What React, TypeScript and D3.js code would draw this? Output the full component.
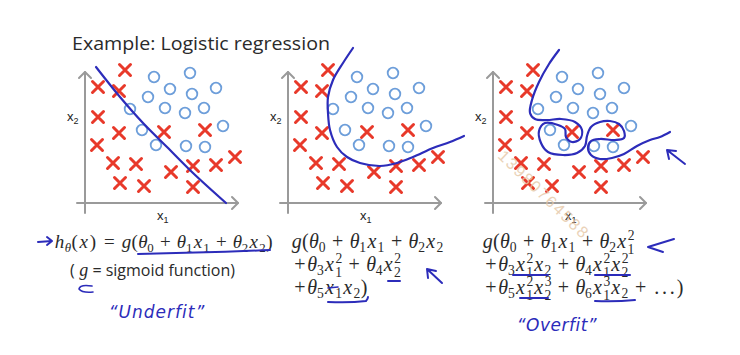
import React from 'react';
import * as d3 from 'd3';

// ---------- data (x1, x2 in plot units) ----------
const crosses: [number, number][] = [
  [4.0, 13.3], [1.3, 11.6], [3.4, 11.2], [1.3, 8.6], [3.4, 7.0], [7.9, 7.1],
  [12.0, 7.3], [1.2, 5.8], [2.8, 4.0], [5.1, 3.9], [8.6, 3.1], [10.8, 3.7],
  [13.1, 3.8], [15.0, 4.6], [3.5, 2.0], [5.9, 1.7], [10.8, 1.6],
];
const circles: [number, number][] = [
  [6.9, 12.6], [10.5, 13.0], [8.5, 11.4], [10.7, 10.9], [13.1, 11.5], [6.3, 10.6],
  [4.5, 9.4], [8.0, 9.5], [10.0, 9.0], [11.9, 9.5], [13.8, 7.7], [5.7, 7.3],
  [7.1, 5.8], [10.1, 5.7], [12.0, 5.6],
];
const boundaryLinear: [number, number][] = [
  [1.1, 13.6], [3.5, 10.6], [5.8, 8.0], [8.2, 5.6], [10.8, 3.0], [14.1, 0.0],
];
const boundaryQuadratic: [number, number][] = [
  [6.5, 15.5], [5.5, 14.0], [4.5, 12.3], [4.0, 10.6], [4.0, 9.0], [4.2, 7.3],
  [4.9, 5.6], [5.9, 4.6], [7.2, 4.0], [9.2, 3.7], [10.9, 4.0], [12.5, 4.6],
  [14.5, 5.5], [16.2, 6.1], [17.6, 6.7],
];
const boundaryOverfit: [number, number][] = [
  [6.6, 15.3], [5.6, 13.9], [4.6, 12.1], [3.9, 10.3], [3.7, 9.0], [4.2, 8.4],
  [5.4, 8.3], [6.8, 8.4], [8.2, 8.1], [8.9, 7.3], [8.7, 6.4], [7.9, 6.1],
  [7.3, 6.6], [7.2, 7.4], [6.5, 7.8], [5.2, 8.0], [4.6, 7.2], [4.8, 6.0],
  [5.5, 5.1], [7.0, 4.8], [8.4, 5.0], [9.2, 5.7], [9.4, 6.7], [9.8, 7.6],
  [10.7, 8.1], [11.7, 8.2], [12.6, 7.9], [13.1, 7.2], [13.1, 6.5], [12.2, 6.3],
  [10.7, 6.4], [9.8, 6.2], [9.5, 5.5], [9.8, 4.8], [10.7, 4.4], [11.9, 4.5],
  [13.1, 4.9], [14.4, 5.7], [15.7, 6.3], [16.7, 6.6], [17.7, 7.1],
];
const axisDomainX: [number, number] = [-0.8, 15.3];
const axisDomainY: [number, number] = [-1.0, 13.1];
const axisLabels = ['x', '1', '2'];
const title = 'Example: Logistic regression';
const formula1 = ['h_θ(x) = g(θ_0 + θ_1x_1 + θ_2x_2)'];
const formula1b = ['(', 'g', ' = sigmoid function)'];
const formula2 = ['g(θ_0 + θ_1x_1 + θ_2x_2', '+θ_3x_1^2 + θ_4x_2^2', '+θ_5x_1x_2)'];
const formula3 = ['g(θ_0 + θ_1x_1 + θ_2x_1^2', '+θ_3x_1^2x_2 + θ_4x_1^2x_2^2', '+θ_5x_1^2x_2^3 + θ_6x_1^3x_2 + …)'];
const notes = ['“Underfit”', '“Overfit”'];
const watermark = '13980764588';

// ---------- layout ----------
const W = 740, H = 355;
const ORIGINS = [85, 288, 493];
const OY = 203;
const xs = d3.scaleLinear().domain([0, 15]).range([0, 150]);
const ys = d3.scaleLinear().domain([0, 15]).range([0, -150]);
const RED = '#e8392a';
const CIRC = '#6d9eda';
const BLUE = '#2c2cba';
const INK = '#2a2a2a';
const AX = '#9a9a9a';

// TeX-like advance widths (em)
const WIT: Record<string, number> = { x: 0.572, 'θ': 0.469, g: 0.477, h: 0.576 };
const WUP: Record<string, number> = { '(': 0.389, ')': 0.389, '+': 0.778, '=': 0.778, '.': 0.39 };
const SS = 0.68;
const gw = (c: string) => (WIT[c] ?? WUP[c] ?? 0.5);

type Glyph = { c: string; x: number; dy: number; size: number; it: boolean };
function layout(src: string, fs: number): Glyph[] {
  const out: Glyph[] = [];
  let x = 0;
  let first = true;
  for (let i = 0; i < src.length; i++) {
    const c = src[i];
    if (c === ' ') continue;
    if (c === '…') {
      for (let k = 0; k < 3; k++) { out.push({ c: '.', x: x + 0.195 * fs, dy: 0, size: fs, it: false }); x += 0.39 * fs; }
      first = false;
      continue;
    }
    const it = /[a-zA-Zθ]/.test(c);
    const sp = c === '+' && !first ? 0.222 : c === '=' ? 0.278 : 0;
    x += sp * fs;
    const w = gw(c) * fs;
    out.push({ c, x: x + w / 2, dy: 0, size: fs, it });
    x += w + sp * fs;
    first = false;
    let sub: string | undefined, sup: string | undefined;
    while (src[i + 1] === '_' || src[i + 1] === '^') {
      if (src[i + 1] === '_') sub = src[i + 2]; else sup = src[i + 2];
      i += 2;
    }
    if (sub || sup) {
      const sw = Math.max(sub ? gw(sub) : 0, sup ? gw(sup) : 0) * fs * SS;
      if (sup) out.push({ c: sup, x: x + gw(sup) * fs * SS / 2 + 0.3, dy: -0.42 * fs, size: fs * SS, it: /θ/.test(sup) });
      if (sub) out.push({ c: sub, x: x + gw(sub) * fs * SS / 2, dy: (sup ? 0.3 : 0.2) * fs, size: fs * SS, it: /θ/.test(sub) });
      x += sw;
    }
  }
  return out;
}

function Formula({ x, y, src, fs }: { x: number; y: number; src: string; fs: number }) {
  const gl = layout(src, fs);
  return (
    <text y={y} fontFamily="'Liberation Serif', 'DejaVu Serif', serif" fontSize={fs} fill={INK} textAnchor="middle">
      {gl.map((g, k) => (
        <tspan key={k} x={x + g.x} y={y + g.dy} fontSize={g.size} fontStyle={g.it ? 'italic' : 'normal'}>{g.c}</tspan>
      ))}
    </text>
  );
}

const lineGen = d3.line<[number, number]>().x(d => xs(d[0])).y(d => ys(d[1])).curve(d3.curveCatmullRom.alpha(0.5));

function Panel({ ox, boundary }: { ox: number; boundary: [number, number][] }) {
  const x0 = xs(axisDomainX[0]), x1 = xs(axisDomainX[1]);
  const y0 = ys(axisDomainY[0]), y1 = ys(axisDomainY[1]);
  const a = 6;
  return (
    <g transform={`translate(${ox},${OY})`}>
      <g stroke={AX} strokeWidth={2} fill="none" strokeLinecap="round">
        <line x1={x0} y1={0} x2={x1} y2={0} />
        <line x1={0} y1={y0} x2={0} y2={y1} />
        <path d={`M${x1 - a},${-a} L${x1},0 L${x1 - a},${a}`} strokeLinejoin="round" />
        <path d={`M${-a},${y1 + a} L0,${y1} L${a},${y1 + a}`} strokeLinejoin="round" />
      </g>
      <text x={xs(7.2)} y={17} fontFamily="'Liberation Sans', sans-serif" fontSize={13} fill="#222">
        {axisLabels[0]}<tspan fontSize={9} dy={3}>{axisLabels[1]}</tspan>
      </text>
      <text x={-18} y={ys(8.2)} fontFamily="'Liberation Sans', sans-serif" fontSize={13} fill="#222">
        {axisLabels[0]}<tspan fontSize={9} dy={3}>{axisLabels[2]}</tspan>
      </text>
      {crosses.map((d, i) => (
        <path key={'c' + i} transform={`translate(${xs(d[0])},${ys(d[1])})`}
          d="M-5.5,-5.5L5.5,5.5M5.5,-5.5L-5.5,5.5" stroke={RED} strokeWidth={3} strokeLinecap="round" fill="none" />
      ))}
      {circles.map((d, i) => (
        <circle key={'o' + i} cx={xs(d[0])} cy={ys(d[1])} r={5.3} fill="none" stroke={CIRC} strokeWidth={1.8} />
      ))}
      <path d={lineGen(boundary) || ''} fill="none" stroke={BLUE} strokeWidth={2.2} strokeLinecap="round" strokeLinejoin="round" />
    </g>
  );
}

const hand = { fill: 'none', stroke: BLUE, strokeWidth: 2, strokeLinecap: 'round' as const, strokeLinejoin: 'round' as const };

export default function App() {
  return (
    <svg width={W} height={H} style={{ position: 'absolute', left: 0, top: 0, background: '#fff' }}>
      <rect width={W} height={H} fill="#fff" />
      <text x={72} y={50} fontFamily="'Open Sans', sans-serif" fontSize={18} fill={INK} textLength={258} lengthAdjust="spacingAndGlyphs">{title}</text>

      <Panel ox={ORIGINS[0]} boundary={boundaryLinear} />
      <Panel ox={ORIGINS[1]} boundary={boundaryQuadratic} />
      <Panel ox={ORIGINS[2]} boundary={boundaryOverfit} />

      {/* watermark */}
      <text x={497} y={157} transform="rotate(44 497 157)" fontFamily="'Liberation Sans', sans-serif" fontSize={16}
        fill="#e6c7a6" opacity={0.8} letterSpacing={2}>{watermark}</text>

      {/* formulas */}
      {formula1.map((s, i) => <Formula key={i} x={54} y={248} src={s} fs={19} />)}
      <text x={70} y={276} fontFamily="'Open Sans', sans-serif" fontSize={16} fill={INK}>
        {formula1b[0]}
        <tspan fontFamily="'Liberation Serif', serif" fontStyle="italic" fontSize={18}>{' ' + formula1b[1]}</tspan>
        {formula1b[2]}
      </text>
      {formula2.map((s, i) => <Formula key={i} x={292} y={248 + i * 23} src={s} fs={20} />)}
      {formula3.map((s, i) => <Formula key={i} x={483} y={248 + i * 23} src={s} fs={20} />)}

      {/* handwritten annotations */}
      <g {...hand}>
        <path d="M38,242 L52,241 M47,237 L52,241 L47,245" />
        <path d="M138,254 Q200,253 270,250" />
        <path d="M92,286 Q80,284 79,289 Q82,293 93,292" strokeWidth={1.6} />
        <path d="M388,281 L400,281" />
        <path d="M328,288 L338,287" strokeWidth={1.5} />
        <path d="M328,302 Q350,303 366,301 Q368,299 368,297" />
        <path d="M442,283 L427,269 M427,269 L436,271 M427,269 L428,278" />
        <path d="M513,275 L548,275" />
        <path d="M595,275 L630,275" />
        <path d="M520,298 L548,298" />
        <path d="M595,301 Q615,302 635,300" />
        <path d="M674,239 L648,247 L663,252" />
        <path d="M685,164 L667,150 M667,150 L676,151 M667,150 L669,159" />
      </g>
      <text x={157} y={318} textAnchor="middle" fontFamily="'DejaVu Sans', sans-serif" fontStyle="italic" fontSize={17}
        letterSpacing={1} fill={BLUE}>{notes[0]}</text>
      <text x={557} y={331} textAnchor="middle" fontFamily="'DejaVu Sans', sans-serif" fontStyle="italic" fontSize={17}
        letterSpacing={0.5} fill={BLUE}>{notes[1]}</text>
    </svg>
  );
}
